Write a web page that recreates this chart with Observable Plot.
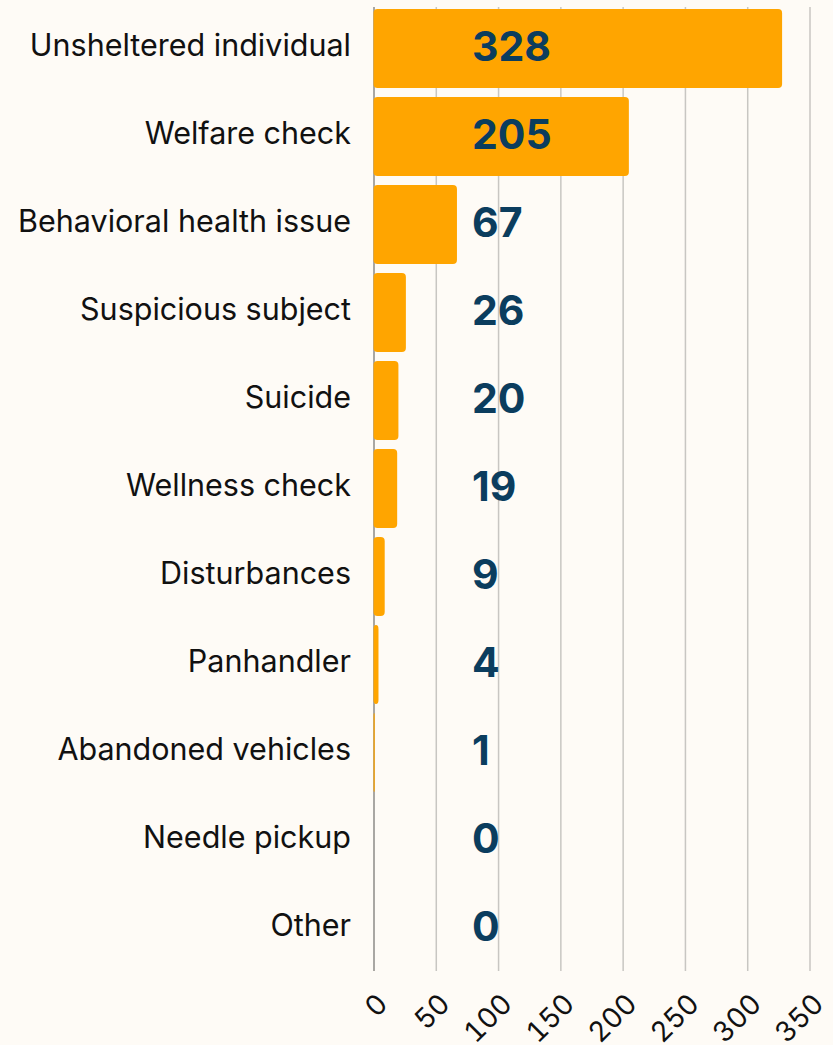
<!DOCTYPE html>
<html>
<head>
<meta charset="utf-8">
<script src="https://cdn.jsdelivr.net/npm/d3@7"></script>
<script src="https://cdn.jsdelivr.net/npm/@observablehq/plot@0.6"></script>
<style>
  html, body { margin: 0; padding: 0; background: #fefbf6; }
  #chart svg { display: block; }
</style>
</head>
<body>
<div id="chart"></div>
<script>
const categories = [
  "Unsheltered individual",
  "Welfare check",
  "Behavioral health issue",
  "Suspicious subject",
  "Suicide",
  "Wellness check",
  "Disturbances",
  "Panhandler",
  "Abandoned vehicles",
  "Needle pickup",
  "Other"
];
const counts = [328, 205, 67, 26, 20, 19, 9, 4, 1, 0, 0];
const xTicks = [0, 50, 100, 150, 200, 250, 300, 350];

const data = categories.map((c, i) => ({category: c, count: counts[i]}));

const font = "Inter, 'DejaVu Sans', sans-serif";

const chart = Plot.plot({
  width: 833,
  height: 1045,
  marginLeft: 373.5,
  marginRight: 23.5,
  marginTop: 7,
  marginBottom: 74,
  style: {background: "#fefbf6", fontFamily: font, color: "#111"},
  x: {domain: [0, 350], axis: null},
  y: {domain: categories, paddingInner: 0.1, paddingOuter: 0, axis: null},
  marks: [
    Plot.gridX(xTicks, {stroke: "#c8c6c2", strokeOpacity: 1, strokeWidth: 1.5}),
    Plot.ruleX([0], {stroke: "#9a9895", strokeWidth: 1.5}),
    Plot.barX(data, {y: "category", x: "count", fill: "#FFA500", rx: 4}),
    Plot.text(data, {
      y: "category", x: 0, text: d => String(d.count),
      dx: 98, dy: -1, textAnchor: "start", fill: "#0b3d5e",
      fontSize: 41, fontWeight: 700, fontFamily: font
    }),
    Plot.axisY({
      tickSize: 0, tickPadding: 23, fontSize: 30.5, fontFamily: font,
      label: null, fill: "#111", dy: -3
    }),
    Plot.axisX(xTicks, {
      tickSize: 0, tickRotate: -45, fontSize: 28, fontFamily: font,
      label: null, fill: "#111", textAnchor: "end", dx: 9, dy: 16
    })
  ]
});
document.getElementById("chart").appendChild(chart);
</script>
</body>
</html>
